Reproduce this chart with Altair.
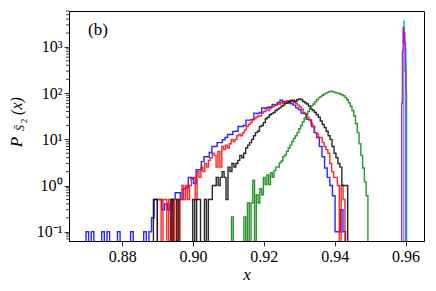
import altair as alt
import pandas as pd

# ---------------- data ----------------
x_ticks = [0.88, 0.90, 0.92, 0.94, 0.96]
y_ticks = [0.1, 1, 10, 100, 1000]
y_tick_labels = ["10⁻¹", "10⁰", "10¹", "10²", "10³"]
y_minor = [0.07, 0.08, 0.09,
           0.2, 0.3, 0.4, 0.5, 0.6, 0.7, 0.8, 0.9,
           2, 3, 4, 5, 6, 7, 8, 9,
           20, 30, 40, 50, 60, 70, 80, 90,
           200, 300, 400, 500, 600, 700, 800, 900,
           2000, 3000, 4000, 5000, 6000]

blue_start = 0.8698
blue_width = 0.00074
blue_vals = [0.1, 0, 0.1, 0, 0, 0, 0.1, 0, 0.1, 0,
             0, 0, 0.1, 0, 0, 0, 0, 0.1, 0, 0,
             0, 0, 0.1, 0, 0.1, 0.2, 0.5, 0.5, 0.5, 0.3,
             0.4, 0.3, 0.4, 0.5, 0.7, 0.7, 0.5, 0.85, 0.9, 1.5,
             1.4, 1.1, 2.2, 2.2, 3.3, 4.2, 4.2, 5.2, 7, 7,
             8.5, 8.5, 9.8, 11, 12.7, 12.7, 14.9, 15, 19, 19,
             20, 26, 26, 27, 37, 36, 38, 48, 47, 49,
             50, 57, 56, 63, 70, 65, 66, 62, 59, 55,
             48, 44, 37, 36, 27, 26, 19, 14, 11, 7,
             4.2, 2.4, 1.5, 1.0, 0.6, 0.1, 0.1, 0.3, 0.1, 0]

red_start = 0.88939
red_width = 0.000535
red_vals = [0, 0.5, 0.5, 0, 0.5, 0.5, 0, 0.5, 0, 0.5,
            0, 0.5, 0, 0.5, 1.0, 0.5, 1.0, 0.5, 1.0, 1.5,
            1.5, 0.5, 2.0, 1.5, 2.5, 2.0, 3.0, 2.5, 3.5, 4.0,
            5.0, 4.5, 2.5, 5.5, 2.5, 7.0, 6.0, 7.5, 6.5, 8.0,
            10, 9, 10, 12, 13, 12, 14, 16, 19, 21,
            23, 26, 28, 30, 32, 32, 37, 40, 43, 42,
            46, 50, 52, 55, 60, 58, 63, 60, 66, 68,
            65, 70, 66, 63, 60, 55, 50, 45, 38, 36,
            30, 27, 22, 19, 14, 13, 11, 11, 8.5, 7,
            6, 5, 3, 2, 1.5, 1.5, 1.0, 0, 1.0, 0.5]

black_start = 0.88883
black_width = 0.000554
black_vals = [0.5, 0.5, 0, 0, 0, 0, 0, 0, 0, 0.5,
              0, 0, 0.5, 0, 0, 0, 0, 0, 0, 0,
              0.5, 0, 0.5, 0.5, 0, 0, 0.5, 0, 0.5, 0.5,
              1.0, 1.0, 1.5, 1.0, 1.5, 2.0, 1.5, 0.5, 2.5, 2.0,
              3.0, 2.5, 3.0, 3.5, 4.5, 4.0, 5.0, 6.5, 7.5, 8.5,
              10, 12, 14, 15, 19, 20, 23, 28, 30, 34,
              36, 38, 42, 45, 48, 52, 55, 60, 62, 66,
              68, 70, 66, 72, 75, 73, 66, 62, 58, 52,
              45, 42, 38, 34, 30, 25, 21, 18, 15, 12,
              10, 7, 5, 4, 3, 2.5, 1.0, 1.0, 1.0, 0]

green_start = 0.91037
green_width = 0.0005
green_vals = [0, 0.21, 0, 0, 0, 0, 0, 0, 0.21, 0,
              0.42, 0, 0.42, 1.3, 0, 0.63, 0.42, 0.85, 0.63, 1.5,
              1.05, 1.7, 1.05, 1.9, 1.5, 2.1, 2.5, 2.5, 3.1, 3.4,
              4.2, 4.6, 5.5, 6.5, 7.5, 9, 10.5, 12, 14, 17,
              20, 24, 29, 34, 40, 46, 53, 58, 65, 72,
              79, 84, 90, 95, 100, 104, 108, 110, 108, 103,
              101, 100, 96, 92, 88, 80, 72, 62, 52, 42,
              32, 22, 14, 8, 4.5, 2.4, 1.2, 0.6]

cyan_start = 0.9595
cyan_width = 0.0001
cyan_vals = [3600, 2800, 2000, 1500, 1300, 900, 500, 100]

magenta_start = 0.9589
magenta_width = 0.0002
magenta_vals = [60, 800, 2600, 2000, 1200, 300]

series = [
    ("blue", blue_start, blue_width, blue_vals, "#1010ff", 1.4),
    ("red", red_start, red_width, red_vals, "#ff1010", 1.4),
    ("black", black_start, black_width, black_vals, "#111111", 1.4),
    ("green", green_start, green_width, green_vals, "#138a13", 1.4),
    ("cyan", cyan_start, cyan_width, cyan_vals, "#00c8c8", 1.4),
    ("magenta", magenta_start, magenta_width, magenta_vals, "#c000c0", 1.4),
]

X_DOMAIN = [0.865, 0.9652]
Y_DOMAIN = [0.063, 6000]
FLOOR = 1e-3  # stands in for empty bins (log scale), clipped at the axis

FONT = "Liberation Serif"


def step_table(name, start, width, vals):
    n = len(vals)
    edges = [start + width * i for i in range(n + 1)]
    xs, ys = [edges[0]], [FLOOR]
    for i, v in enumerate(vals):
        xs.append(edges[i])
        ys.append(v if v > 0 else FLOOR)
    xs.append(edges[n])
    ys.append(vals[-1] if vals[-1] > 0 else FLOOR)
    xs.append(edges[n])
    ys.append(FLOOR)
    return pd.DataFrame({"x": xs, "y": ys, "i": list(range(len(xs))), "s": name})


label_expr = ""
for v, lab in zip(y_ticks, y_tick_labels):
    label_expr += f"abs(datum.value - {v}) < {v} * 0.01 ? '{lab}' : "
label_expr += "''"

x_scale = alt.Scale(domain=X_DOMAIN, nice=False, zero=False)
y_scale = alt.Scale(type="log", domain=Y_DOMAIN, nice=False)
x_axis = alt.Axis(values=x_ticks, format=".2f", title="x",
                  titleFontStyle="italic", grid=False)
y_axis = alt.Axis(values=y_ticks, labelExpr=label_expr, title=None, grid=False)

xenc = alt.X("x:Q", scale=x_scale, axis=x_axis)
yenc = alt.Y("y:Q", scale=y_scale, axis=y_axis)

layers = []
for name, start, width, vals, col, sw in series:
    df = step_table(name, start, width, vals)
    layers.append(
        alt.Chart(df).mark_line(interpolate="step-after", clip=True,
                                color=col, strokeWidth=sw, opacity=0.9)
        .encode(x=xenc, y=yenc, order="i:Q")
    )

minor = alt.Chart(pd.DataFrame({"y": y_minor})).mark_rule(
    color="black", strokeWidth=0.8
).encode(y=yenc, x=alt.value(0), x2=alt.value(-3))


def label(txt, x, y, size, style="italic"):
    return alt.Chart(pd.DataFrame({"t": [txt]})).mark_text(
        font=FONT, fontSize=size, fontStyle=style, angle=270,
        align="center", baseline="middle", color="black"
    ).encode(text="t:N", x=alt.value(x), y=alt.value(y))


panel_label = alt.Chart(pd.DataFrame({"t": ["(b)"]})).mark_text(
    font=FONT, fontSize=17, align="center", baseline="middle", color="black"
).encode(text="t:N", x=alt.value(29), y=alt.value(19))

ytitle_P = label("P", -52, 131, 17)
ytitle_S = label("S̄", -49, 117, 12)
ytitle_2 = label("2", -45, 110, 9, "normal")
ytitle_x = label("(x)", -52, 95, 16)

chart = alt.layer(*layers, minor, panel_label,
                  ytitle_P, ytitle_S, ytitle_2, ytitle_x).properties(
    width=355, height=230,
    autosize=alt.AutoSizeParams(type="none"),
    padding={"left": 61, "top": 3, "right": 3, "bottom": 42},
    background="white",
).configure_view(
    stroke="black", strokeWidth=1
).configure_axis(
    labelFont=FONT, labelFontSize=16, labelColor="black",
    titleFont=FONT, titleFontSize=17, titleColor="black", titleFontWeight="normal",
    domainColor="black", tickColor="black", tickSize=5, tickWidth=0.8,
    labelPadding=2, titlePadding=2, domainWidth=1,
)

chart.save("out.html", embed_options={"renderer": "svg", "actions": False})
